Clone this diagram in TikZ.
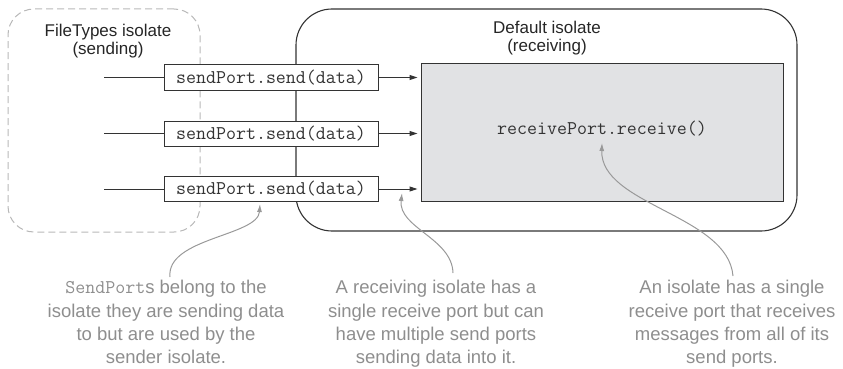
\documentclass[tikz,border=0pt]{standalone}
\usepackage{fontspec}
\setmainfont{Liberation Sans}
\usetikzlibrary{arrows.meta}
\definecolor{linec}{HTML}{333333}
\definecolor{dashc}{HTML}{B8B8B8}
\definecolor{notec}{HTML}{8E8E8E}
\definecolor{fillc}{HTML}{E1E2E4}
\newcommand{\codefont}{\ttfamily\fontsize{19.4}{21}\selectfont}
\begin{document}
\begin{tikzpicture}[x=1pt,y=-1pt,
  sendbox/.style={draw=linec,line width=1pt,fill=white,minimum width=214pt,minimum height=25pt,inner sep=0pt,
    font=\codefont,text=linec},
  recvbox/.style={draw=linec,line width=1pt,fill=fillc,minimum width=362pt,minimum height=137pt,inner sep=0pt},
  title/.style={align=center,inner sep=0pt,anchor=north,font=\fontsize{17}{18}\selectfont,text=black!85},
  note/.style={align=center,inner sep=0pt,anchor=north,font=\fontsize{18.5}{23.4}\selectfont,text=notec},
  flow/.style={draw=linec,line width=1pt},
  flowarr/.style={flow,-{Triangle[length=8pt,width=5pt]},shorten >=3pt},
  callout/.style={draw=notec!90,line width=1pt,-{Latex[length=8pt,width=5pt]}}
]
\useasboundingbox (0,0) rectangle (843,369);
% isolates
\node[draw=dashc,dashed,dash pattern=on 7pt off 4pt,line width=1pt,rounded corners=26pt,
  minimum width=192pt,minimum height=223pt,inner sep=0pt] (fi) at (104,120.5) {};
\node[draw=linec,line width=1.1pt,rounded corners=36pt,
  minimum width=501pt,minimum height=222pt,inner sep=0pt] (di) at (546.5,120) {};
\node[title] (fit) at (108,23.5) {FileTypes isolate\\(sending)};
\node[title] (dit) at (547,21) {Default isolate\\(receiving)};
% receive box
\node[recvbox] (r) at (602,132.5) {};
\node[inner sep=0pt,font=\codefont,text=linec] (rt) at (602,129) {receivePort.receive()};
% send boxes
\node[sendbox] (s1) at (271,77.5) {sendPort.send(data)};
\node[sendbox] (s2) at (271,133.5) {sendPort.send(data)};
\node[sendbox] (s3) at (271,189) {sendPort.send(data)};
\coordinate (l1) at (104,77.5);
\coordinate (l2) at (104,133.5);
\coordinate (l3) at (104,189);
\draw[flow] (l1) -- (s1.west);
\draw[flow] (l2) -- (s2.west);
\draw[flow] (l3) -- (s3.west);
\draw[flowarr] (s1.east) -- (s1.east -| r.west);
\draw[flowarr] (s2.east) -- (s2.east -| r.west);
\draw[flowarr] (s3.east) -- (s3.east -| r.west);
% notes
\node[note] (n1) at (166,280) {{\ttfamily\fontsize{19.4}{23.4}\selectfont SendPort}s belong to the\\isolate they are sending data\\to but are used by the\\sender isolate.};
\node[note] (n2) at (436,280) {A receiving isolate has a\\single receive port but can\\have multiple send ports\\sending data into it.};
\node[note] (n3) at (732,280) {An isolate has a single\\receive port that receives\\messages from all of its\\send ports.};
\coordinate (c1) at (170,277);
\coordinate (t1) at (260,204);
\coordinate (c2) at (453,273);
\coordinate (t2) at (402,193);
\coordinate (c3) at (733,276);
\coordinate (t3) at (602,143);
\draw[callout] (c1) .. controls (166,238) and (258,236) .. (t1);
\draw[callout] (c2) .. controls (452,238) and (398,228) .. (t2);
\draw[callout] (c3) .. controls (728,215) and (600,205) .. (t3);
\end{tikzpicture}
\end{document}
